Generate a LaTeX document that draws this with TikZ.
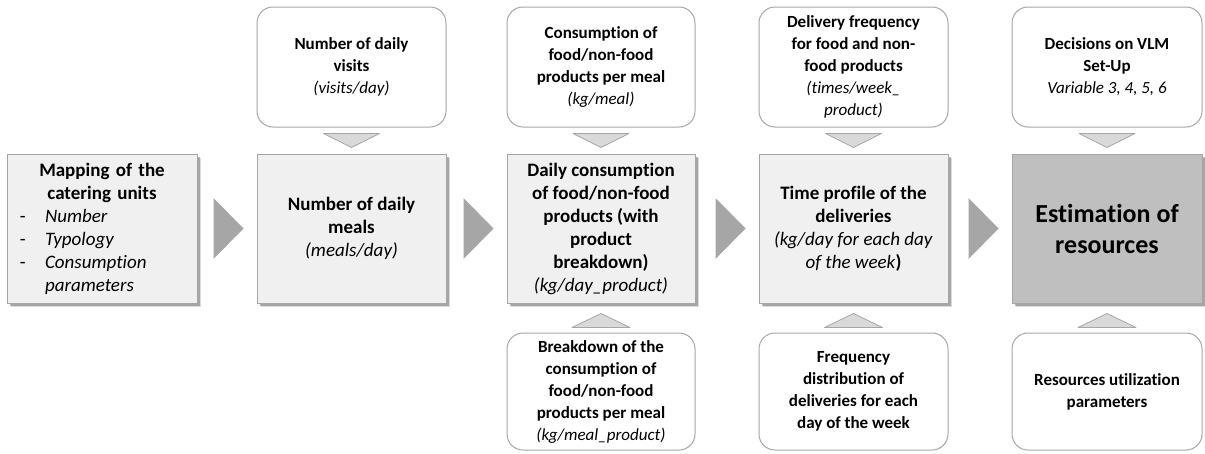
\documentclass[tikz,border=0pt]{standalone}
\usepackage{fontspec}
\setmainfont{Carlito}[Ligatures={NoCommon}]
\usetikzlibrary{shadows,calc}
\definecolor{boxfill}{HTML}{F0F0F0}
\definecolor{darkfill}{HTML}{BFBFBF}
\definecolor{edge}{HTML}{A6A6A6}
\definecolor{trifill}{HTML}{D9D9D9}
\definecolor{arrfill}{HTML}{A6A6A6}
\begin{document}
\begin{tikzpicture}[x=1pt,y=1pt,
 mainbox/.style={draw=edge, line width=1pt, fill=boxfill, minimum width=189pt, minimum height=149pt, inner sep=0pt, align=center, font=\fontsize{19}{23}\selectfont,
   general shadow={shadow xshift=4pt, shadow yshift=-4pt, fill=black!40, opacity=0.35},
   general shadow={shadow xshift=2.5pt, shadow yshift=-2.5pt, fill=black!60, opacity=0.45}},
 inbox/.style={draw=edge, line width=1pt, fill=white, rounded corners=16pt, minimum width=189pt, inner sep=0pt, align=center, font=\fontsize{17}{22}\selectfont},
 topbox/.style={inbox, minimum height=120pt},
 botbox/.style={inbox, minimum height=117pt},
 tri/.style={draw=edge, line width=0.8pt, fill=trifill, line join=round},
 flow/.style={fill=arrfill}]
\useasboundingbox[fill=white] (0,0) rectangle (1205,-453);

% main row
\node[mainbox, minimum width=190pt, text width=180pt, align=left] (m1) at (102,-228.5)
 {\makebox[180pt]{\textbf{Mapping of the}}\\
  \makebox[180pt]{\textbf{catering units}}\\
  \hspace*{8pt}\makebox[25pt][l]{-}\textit{Number}\\
  \hspace*{8pt}\makebox[25pt][l]{-}\textit{Typology}\\
  \hspace*{8pt}\makebox[25pt][l]{-}\textit{Consumption}\\
  \hspace*{33pt}\textit{parameters}};
\node[mainbox] (m2) at (351.5,-228.5)
 {\textbf{Number of daily}\\\textbf{meals}\\\textit{(meals/day)}};
\node[mainbox, minimum width=188pt] (m3) at (601,-228.5)
 {\textbf{Daily consumption}\\\textbf{of food/non-food}\\\textbf{products (with}\\\textbf{product}\\\textbf{breakdown)}\\\textit{(kg/day\_product)}};
\node[mainbox] (m4) at (853.5,-228.5)
 {\textbf{Time profile of the}\\\textbf{deliveries}\\\textit{(kg/day for each day}\\\textit{of the week}\textbf{)}};
\node[mainbox, minimum width=190pt, fill=darkfill, font=\fontsize{26}{31}\selectfont] (m5) at (1107,-228.5)
 {\textbf{Estimation of}\\\textbf{resources}};

% top row
\node[topbox] (t2) at (351.5,-67)
 {\textbf{Number of daily}\\\textbf{visits}\\\textit{(visits/day)}};
\node[topbox, minimum width=188pt] (t3) at (601,-67)
 {\textbf{Consumption of}\\\textbf{food/non-food}\\\textbf{products per meal}\\\textit{(kg/meal)}};
\node[topbox] (t4) at (853.5,-67)
 {\textbf{Delivery frequency}\\\textbf{for food and non-}\\\textbf{food products}\\\textit{(times/week\_}\\\textit{product)}};
\node[topbox, minimum width=190pt] (t5) at (1107,-67)
 {\textbf{Decisions on VLM}\\\textbf{Set-Up}\\\textit{Variable 3, 4, 5, 6}};

% bottom row
\node[botbox, minimum width=188pt] (b3) at (601,-391.5)
 {\textbf{Breakdown of the}\\\textbf{consumption of}\\\textbf{food/non-food}\\\textbf{products per meal}\\\textit{(kg/meal\_product)}};
\node[botbox] (b4) at (853.5,-391.5)
 {\textbf{Frequency}\\\textbf{distribution of}\\\textbf{deliveries for each}\\\textbf{day of the week}};
\node[botbox, minimum width=190pt] (b5) at (1107,-391.5)
 {\textbf{Resources utilization}\\\textbf{parameters}};

% down triangles
\foreach \c in {2,3,4,5}{
  \draw[tri] ($(t\c.south)+(-28,-6)$) -- ($(t\c.south)+(28,-6)$) -- ($(m\c.north)+(0,6)$) -- cycle;
}
% up triangles
\foreach \c in {3,4,5}{
  \draw[tri] ($(b\c.north)+(-29,5)$) -- ($(b\c.north)+(29,5)$) -- ($(m\c.south)+(0,-10)$) -- cycle;
}
% flow arrows
\foreach \a/\b in {1/2,2/3,3/4,4/5}{
  \fill[flow] ($(m\b.west)+(-43,30.5)$) -- ($(m\b.west)+(-13,0)$) -- ($(m\b.west)+(-43,-30.5)$) -- cycle;
}
\end{tikzpicture}
\end{document}
